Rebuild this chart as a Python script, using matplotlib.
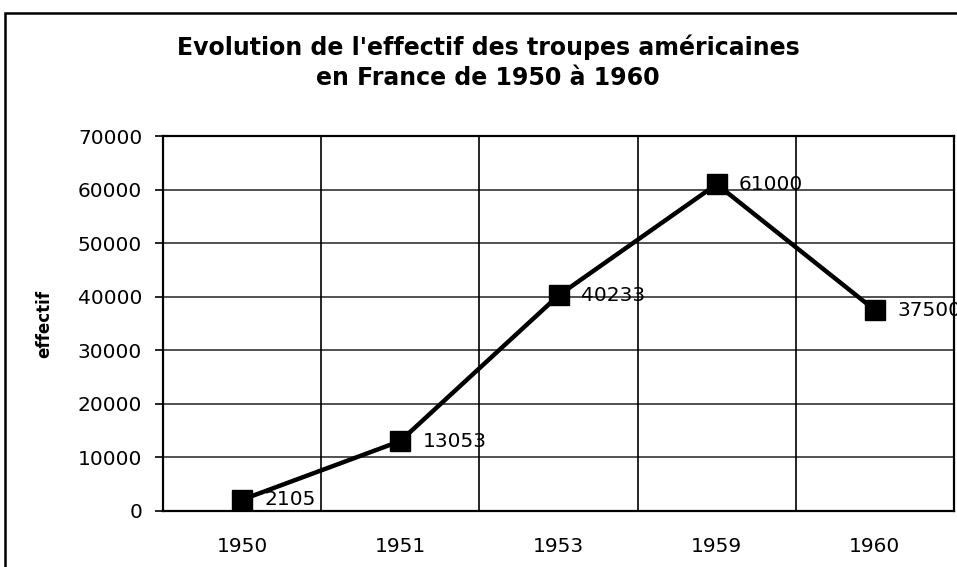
import matplotlib
matplotlib.use("Agg")
import matplotlib.pyplot as plt
from matplotlib.patches import Rectangle

years = ["1950", "1951", "1953", "1959", "1960"]
effectif = [2105, 13053, 40233, 61000, 37500]
y_ticks = [0, 10000, 20000, 30000, 40000, 50000, 60000, 70000]
title = "Evolution de l'effectif des troupes américaines\nen France de 1950 à 1960"
ylabel = "effectif"

plt.rcParams['font.family'] = ['DejaVu Sans']

W, H = 957, 567
fig = plt.figure(figsize=(W / 100, H / 100), dpi=100)
ax = fig.add_axes([163 / W, 1 - 511 / H, (954 - 163) / W, (511 - 136) / H])

x = list(range(len(years)))
ax.plot(x, effectif, color="black", lw=3.2, marker="s", markersize=14,
        markerfacecolor="black", markeredgecolor="black", zorder=3)
for xi, v in zip(x, effectif):
    ax.annotate(str(v), (xi, v), xytext=(16, 0), textcoords="offset points",
                ha="left", va="center", fontsize=14.5, color="black",
                annotation_clip=False, zorder=4)

ax.set_xlim(-0.5, len(years) - 0.5)
ax.set_ylim(0, 70000)
ax.set_yticks(y_ticks)
ax.set_yticklabels([str(t) for t in y_ticks], fontsize=14.5)
ax.set_xticks(x)
ax.set_xticklabels(years, fontsize=14.5)
ax.tick_params(axis="x", length=0, pad=19)
ax.tick_params(axis="y", length=6, width=1.2, direction="out", pad=9)

# category boundary grid lines
for b in range(1, len(years)):
    ax.axvline(b - 0.5, color="black", lw=1.2, zorder=1)
ax.yaxis.grid(True, color="#222222", lw=1.1, zorder=1)
ax.set_axisbelow(True)
for s in ax.spines.values():
    s.set_color("black")
    s.set_linewidth(1.6)

ax.set_ylabel(ylabel, fontsize=12, fontweight="bold", labelpad=18)

fig.text(488 / W, 1 - 62 / H, title, ha="center", va="center",
         fontsize=17, fontweight="bold", linespacing=1.3)

fig.patches.append(Rectangle((4.5 / W, -0.1), 1.2, 1 - 13 / H + 0.1,
                             transform=fig.transFigure, fill=False,
                             edgecolor="black", lw=1.8, zorder=0))

fig.savefig("out.png", dpi=100)
